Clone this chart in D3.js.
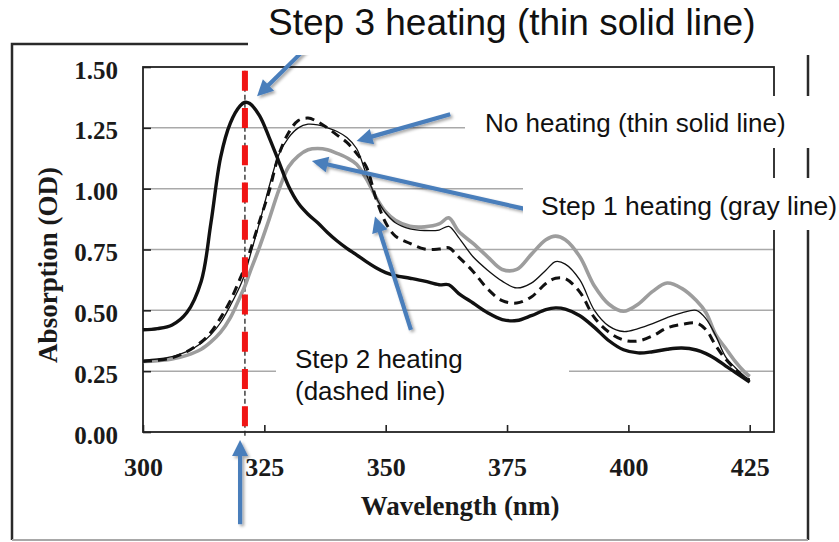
<!DOCTYPE html>
<html><head><meta charset="utf-8">
<script src="https://cdn.jsdelivr.net/npm/d3@7"></script>
<style>html,body{margin:0;padding:0;background:#fff;} svg{display:block;}</style>
</head><body>
<svg id="chart" width="839" height="542"></svg>
<script>
// Wavelength grid (nm) shared by all four absorption spectra
const wavelengths = [300,303,306,309,312,314,316,318,320,321,322,324,326,328,330,332,334,336,338,340,342,344,346,348,350,352,355,358,361,363,365,368,371,374,377,380,383,385,387,390,393,396,399,402,405,408,411,414,416,418,420,422,424,425];

// Absorption (OD) for each treatment
const noHeating = [0.295,0.30,0.31,0.33,0.365,0.40,0.45,0.52,0.60,0.65,0.72,0.86,1.01,1.14,1.21,1.25,1.265,1.262,1.25,1.235,1.21,1.165,1.06,0.965,0.90,0.86,0.835,0.828,0.83,0.845,0.80,0.72,0.665,0.62,0.592,0.612,0.665,0.70,0.69,0.625,0.50,0.435,0.413,0.425,0.445,0.47,0.49,0.50,0.465,0.395,0.31,0.265,0.228,0.215];
const step1Heating = [0.29,0.293,0.30,0.315,0.34,0.37,0.41,0.47,0.555,0.60,0.655,0.76,0.875,0.995,1.09,1.135,1.16,1.165,1.16,1.145,1.127,1.10,1.04,0.965,0.905,0.87,0.845,0.843,0.855,0.88,0.825,0.775,0.72,0.668,0.668,0.73,0.79,0.805,0.79,0.72,0.60,0.525,0.496,0.525,0.578,0.612,0.59,0.54,0.49,0.40,0.345,0.29,0.245,0.228];
const step2Heating = [0.29,0.295,0.305,0.33,0.37,0.41,0.47,0.54,0.63,0.68,0.74,0.865,0.99,1.14,1.23,1.28,1.29,1.275,1.25,1.22,1.19,1.145,1.09,0.96,0.86,0.805,0.775,0.752,0.752,0.757,0.72,0.66,0.588,0.54,0.53,0.555,0.61,0.632,0.63,0.575,0.47,0.41,0.378,0.374,0.395,0.428,0.442,0.448,0.42,0.355,0.30,0.258,0.222,0.214];
const step3Heating = [0.42,0.425,0.44,0.49,0.62,0.86,1.13,1.27,1.34,1.355,1.35,1.30,1.21,1.11,1.01,0.94,0.895,0.86,0.82,0.785,0.755,0.728,0.70,0.675,0.655,0.643,0.632,0.62,0.605,0.605,0.57,0.53,0.49,0.462,0.458,0.478,0.503,0.51,0.505,0.478,0.43,0.375,0.338,0.325,0.33,0.34,0.345,0.337,0.322,0.30,0.272,0.245,0.218,0.205];

// Axis ticks
const xTicks = [300,325,350,375,400,425];
const yTicks = [0,0.25,0.5,0.75,1.0,1.25,1.5];

// Reference wavelength of the Step 3 maximum
const markerWavelength = 321;

// Callout arrows, tail -> tip, in (wavelength, OD)
const pointers = [
  {from:[334.4,1.594], to:[323.5,1.38]},
  {from:[363.3,1.306], to:[344.0,1.196]},
  {from:[378.4,0.918], to:[334.8,1.114]},
  {from:[355.2,0.42],  to:[347.8,0.886]},
  {from:[320.0,-0.379],to:[320.0,-0.033]}
];

const svg = d3.select("#chart");
const x = d3.scaleLinear().domain([300,430]).range([143,774]);
const y = d3.scaleLinear().domain([0,1.5]).range([432,67]);

const serif = "'Liberation Serif','Times New Roman',serif";
const sans = "'Liberation Sans',Arial,sans-serif";

// drop shadow for the callout arrows
const defs = svg.append("defs");
const f = defs.append("filter").attr("id","shadow").attr("x","-50%").attr("y","-50%").attr("width","200%").attr("height","200%");
f.append("feDropShadow").attr("dx",2).attr("dy",2).attr("stdDeviation",1.6)
  .attr("flood-color","#000").attr("flood-opacity",0.35);

// outer frame
svg.append("path").attr("d","M12,540 L12,44 L808,44 L808,540")
  .attr("fill","none").attr("stroke","#2a2a2a").attr("stroke-width",2.5);
svg.append("line").attr("x1",12).attr("x2",808).attr("y1",540).attr("y2",540)
  .attr("stroke","#a8a8a8").attr("stroke-width",2);

// horizontal gridlines
svg.append("g").selectAll("line")
  .data(yTicks.filter(v => v > 0 && v < 1.5))
  .join("line")
  .attr("x1",x(300)).attr("x2",x(430))
  .attr("y1",d => y(d)).attr("y2",d => y(d))
  .attr("stroke","#a9a9a9").attr("stroke-width",1.5);

// axes
const xAxis = d3.axisBottom(x).tickValues(xTicks).tickFormat(d3.format("d"))
  .tickSizeInner(-7).tickSizeOuter(0);
const gx = svg.append("g").attr("transform",`translate(0,${y(0)})`).call(xAxis);
gx.select(".domain").remove();
gx.selectAll(".tick line").attr("stroke","#222").attr("stroke-width",1.6);
gx.selectAll(".tick text").attr("y",44).attr("dy",0)
  .attr("font-family",serif).attr("font-weight","bold").attr("font-size",26).attr("fill","#1a1a1a");

const yAxis = d3.axisLeft(y).tickValues(yTicks).tickFormat(d3.format(".2f"))
  .tickSizeInner(-8).tickSizeOuter(0).tickPadding(25);
const gy = svg.append("g").attr("transform",`translate(${x(300)},0)`).call(yAxis);
gy.select(".domain").remove();
gy.selectAll(".tick line").attr("stroke","#222").attr("stroke-width",1.6);
gy.selectAll(".tick text").attr("dy",11)
  .attr("font-family",serif).attr("font-weight","bold").attr("font-size",25).attr("fill","#1a1a1a");

// plot border
svg.append("rect").attr("x",x(300)).attr("y",y(1.5))
  .attr("width",x(430)-x(300)).attr("height",y(0)-y(1.5))
  .attr("fill","none").attr("stroke","#222").attr("stroke-width",1.8);

// axis titles
svg.append("text").attr("x",460).attr("y",515).attr("text-anchor","middle")
  .attr("font-family",serif).attr("font-weight","bold").attr("font-size",27).attr("fill","#1a1a1a")
  .text("Wavelength (nm)");
svg.append("text").attr("transform","translate(57,265) rotate(-90)").attr("text-anchor","middle")
  .attr("font-family",serif).attr("font-weight","bold").attr("font-size",27).attr("fill","#1a1a1a")
  .text("Absorption (OD)");

// thin dash-dot guide under the red marker
svg.append("line").attr("x1",x(markerWavelength)).attr("x2",x(markerWavelength))
  .attr("y1",y(1.485)).attr("y2",y(0)+6)
  .attr("stroke","#222").attr("stroke-width",1.3).attr("stroke-dasharray","5,3");

// spectra
const line = d3.line().x((d,i) => x(wavelengths[i])).y(d => y(d)).curve(d3.curveCatmullRom.alpha(0.5));
const series = [
  {values: step1Heating, stroke:"#9d9d9d", width:3.6, dash:null},
  {values: noHeating,    stroke:"#111",    width:1.3, dash:null},
  {values: step2Heating, stroke:"#111",    width:3.0, dash:"9,6"},
  {values: step3Heating, stroke:"#111",    width:3.4, dash:null}
];
svg.append("g").selectAll("path").data(series).join("path")
  .attr("d",d => line(d.values))
  .attr("fill","none").attr("stroke",d => d.stroke).attr("stroke-width",d => d.width)
  .attr("stroke-dasharray",d => d.dash).attr("stroke-linejoin","round");

// red marker line at the Step 3 peak
svg.append("line").attr("x1",x(markerWavelength)).attr("x2",x(markerWavelength))
  .attr("y1",y(1.485)).attr("y2",y(0))
  .attr("stroke","#f01414").attr("stroke-width",6).attr("stroke-dasharray","20,17.3");

// callout arrows
const ag = svg.append("g").attr("filter","url(#shadow)");
pointers.forEach(p => {
  const x0 = x(p.from[0]), y0 = y(p.from[1]), x1 = x(p.to[0]), y1 = y(p.to[1]);
  const dx = x1 - x0, dy = y1 - y0, L = Math.hypot(dx,dy);
  const ux = dx / L, uy = dy / L, nx = -uy, ny = ux;
  const headLen = 16, headHalf = 8;
  const bx = x1 - ux*headLen, by = y1 - uy*headLen;
  ag.append("line").attr("x1",x0).attr("y1",y0).attr("x2",bx+ux*2).attr("y2",by+uy*2)
    .attr("stroke","#4a7ebb").attr("stroke-width",4.2);
  ag.append("path")
    .attr("d",`M${x1},${y1} L${bx+nx*headHalf},${by+ny*headHalf} L${bx-nx*headHalf},${by-ny*headHalf} Z`)
    .attr("fill","#4a7ebb");
});

// callout labels on white boxes
const labels = [
  {box:[248,0,591,55],   lines:["Step 3 heating (thin solid line)"], x:268, y:35, size:37},
  {box:[465,96,374,52],  lines:["No heating (thin solid line)"], x:485, y:132, size:26},
  {box:[523,178,316,52], lines:["Step 1 heating (gray line)"], x:541, y:215, size:26.5},
  {box:[276,336,293,72], lines:["Step 2 heating","(dashed line)"], x:295, y:368, size:26}
];
labels.forEach(l => {
  svg.append("rect").attr("x",l.box[0]).attr("y",l.box[1]).attr("width",l.box[2]).attr("height",l.box[3])
    .attr("fill","#fff");
  const t = svg.append("text").attr("font-family",sans).attr("font-size",l.size).attr("fill","#111");
  l.lines.forEach((s,i) => t.append("tspan").attr("x",l.x).attr("y",l.y + i*32).text(s));
});
</script>
</body></html>
